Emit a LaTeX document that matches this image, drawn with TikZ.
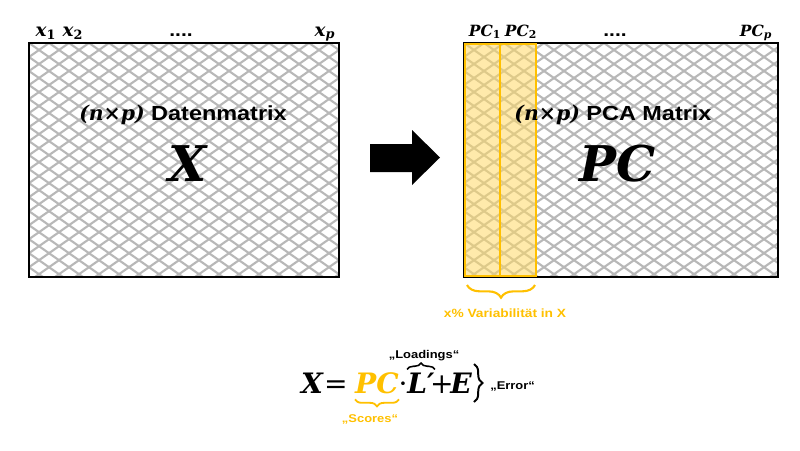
\documentclass[tikz,border=0pt]{standalone}
\usepackage{fontspec}
\setmainfont{Liberation Sans}[FakeStretch=1.15]
\newfontfamily\symf{DejaVu Serif}
\usetikzlibrary{decorations.pathreplacing}

\definecolor{pcorange}{HTML}{FFC000}
\definecolor{pclight}{HTML}{FFD966}
\definecolor{hatchgray}{HTML}{B8B8B8}

\newcommand\sy[1]{{\symf\bfseries\itshape #1}}
\newcommand\sub[1]{\textsubscript{#1}}

% cross hatching inside a box (corners in px)
\newcommand\hatchbox[4]{%
 \begin{scope}
  \clip (#1,#2) rectangle (#3,#4);
  \foreach \i in {-20,...,40} {
   \draw[hatchline] (#1+\i*20,#2) -- ++(334,234);
   \draw[hatchline] (#1+\i*20,#2) -- ++(-334,234);
  }
 \end{scope}}

\begin{document}
\begin{tikzpicture}[x=0.025cm,y=-0.025cm,font=\bfseries,
 hatchline/.style={hatchgray,line width=1.5pt},
 frame/.style={draw=black,line width=2pt},
 pccol/.style={draw=pcorange,line width=1.4pt,fill=pclight,fill opacity=0.55},
 collbl/.style={inner sep=0pt,anchor=base,font=\fontsize{13}{15}\selectfont},
 pclbl/.style={inner sep=0pt,anchor=base,font=\fontsize{11}{13}\selectfont},
 title/.style={inner sep=0pt,font=\bfseries\fontsize{14.5}{17}\selectfont},
 bigsym/.style={inner sep=0pt,font=\fontsize{35}{40}\selectfont},
 eqpart/.style={inner sep=0pt,anchor=base,font=\fontsize{20}{24}\selectfont},
 note/.style={inner sep=0pt,font=\bfseries\fontsize{8}{10}\selectfont},
 brc/.style={decorate,decoration={brace,amplitude=#1}}]
\useasboundingbox (0,0) rectangle (800,450);

% left matrix
\hatchbox{29}{43}{339}{277}
\draw[frame] (29,43) rectangle (339,277);
\node[collbl] (x1) at (46,36) {\sy{x\sub{\upshape 1}}};
\node[collbl] (x2) at (73,36) {\sy{x\sub{\upshape 2}}};
\node[collbl] (xdots) at (181,36) {\bfseries ....};
\node[collbl] (xp) at (325,36) {\sy{x\sub{p}}};
\node[title] (tX) at (183,115) {\sy{(n×p)} Datenmatrix};
\node[bigsym] (bigX) at (188,164) {\sy{X}};

% block arrow
\fill (370,144) -- (412,144) -- (412,130) -- (440,157.5) -- (412,185)
 -- (412,172) -- (370,172) -- cycle;

% right matrix
\hatchbox{464}{43}{778}{277}
\draw[frame] (464,43) rectangle (778,277);
\draw[pccol] (465,44) rectangle (500,276);
\draw[pccol] (500,44) rectangle (536,276);
\coordinate (bl) at (467,285);
\coordinate (br) at (535,285);
\node[pclbl] (pc1) at (485,36) {\sy{PC\sub{\upshape 1}}};
\node[pclbl] (pc2) at (521,36) {\sy{PC\sub{\upshape 2}}};
\node[collbl] (pcdots) at (615,36) {\bfseries ....};
\node[pclbl] (pcp) at (756,36) {\sy{PC\sub{p}}};
\node[title] (tPC) at (613,115) {\sy{(n×p)} PCA Matrix};
\node[bigsym] (bigPC) at (618,164) {\sy{PC}};

% explained variability
\draw[pcorange,line width=1.5pt,brc=9pt] (br) -- (bl);
\node[note,text=pcorange,font=\bfseries\fontsize{8.5}{10}\selectfont] (var) at (505,313) {x\% Variabilität in X};

% decomposition
\node[eqpart] (eqX) at (312,393) {\sy{X}};
\node[eqpart] (eqeq) at (336,393) {{\symf =}};
\node[eqpart,text=pcorange] (eqPC) at (377,393) {\sy{PC}};
\node[eqpart] (eqdot) at (403,393) {{\symf ·}};
\node[eqpart] (eqL) at (421,393) {\sy{L′}};
\node[eqpart] (eqplus) at (442,393) {{\symf +}};
\node[eqpart] (eqE) at (461,393) {\sy{E}};
\draw[pcorange,line width=1.3pt,brc=5pt] ([yshift=-4pt]eqPC.south east) -- ([yshift=-4pt]eqPC.south west);
\draw[line width=1.1pt,brc=4.5pt] ([yshift=2pt]eqL.north west) -- ([yshift=2pt]eqL.north east);
\draw[line width=1.4pt,brc=6pt] (474,364) -- (474,402);
\node[note] (load) at (424,356) {„Loadings“};
\node[note,text=pcorange] (score) at (370,419) {„Scores“};
\node[note,anchor=west] (err) at (490,386) {„Error“};
\end{tikzpicture}
\end{document}
